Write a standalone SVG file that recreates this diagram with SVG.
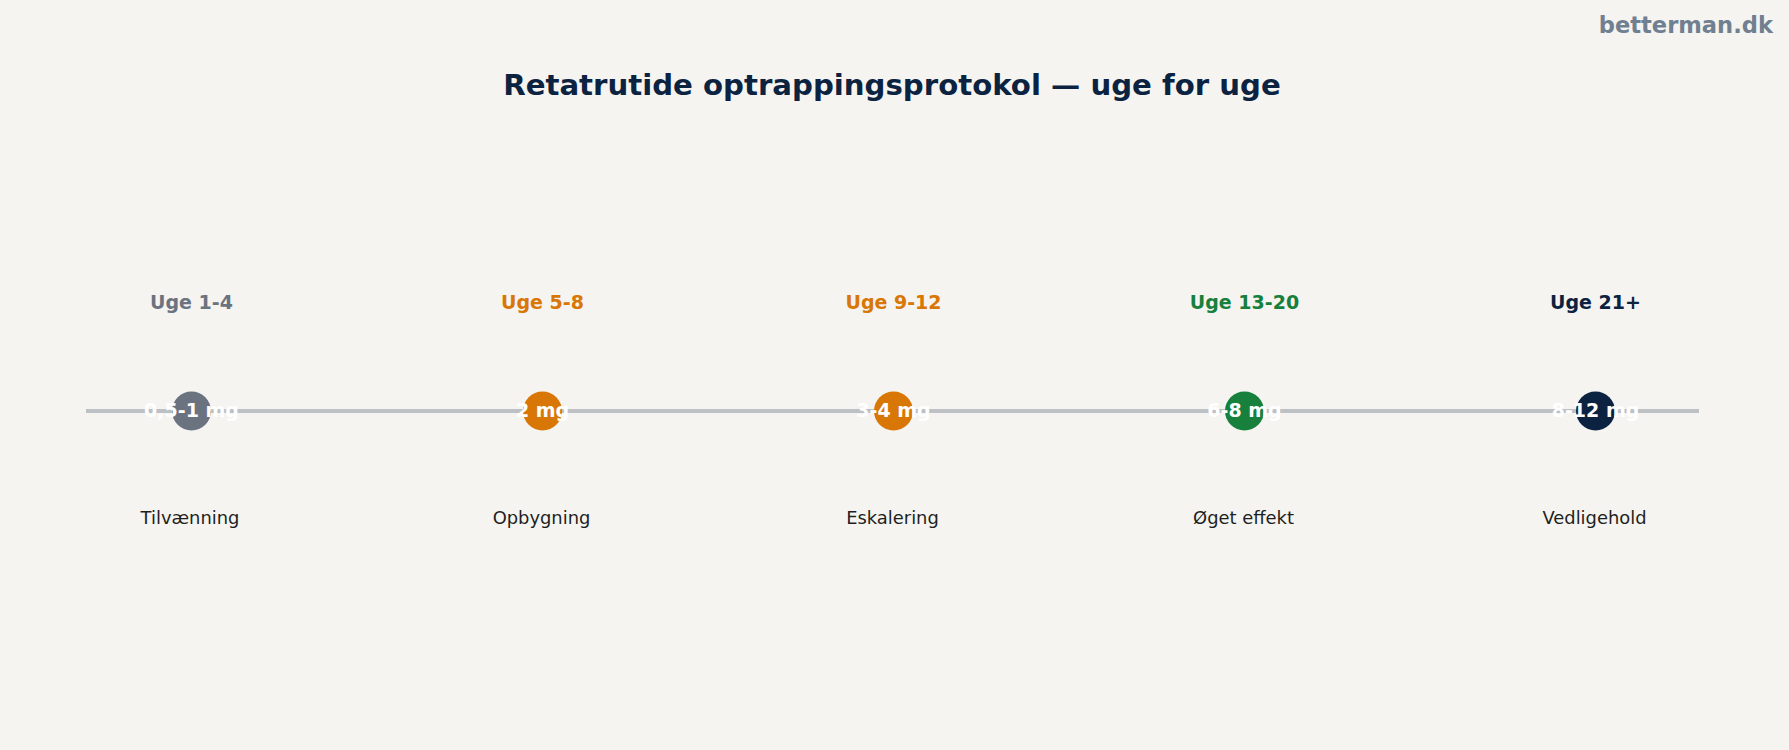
<svg xmlns="http://www.w3.org/2000/svg" width="1789" height="750" viewBox="0 0 1789 750">
<style>
.bg{fill:#f5f4f0}
.title{font-family:"DejaVu Sans",sans-serif;font-weight:bold;font-size:29.2px;fill:#0b2341;text-anchor:middle}
.wm{font-family:"DejaVu Sans",sans-serif;font-weight:bold;font-size:22.6px;fill:#708090;text-anchor:end}
.wk{font-family:"DejaVu Sans",sans-serif;font-weight:bold;font-size:19px;text-anchor:middle}
.dose{font-family:"DejaVu Sans",sans-serif;font-weight:bold;font-size:19px;fill:#ffffff;text-anchor:middle}
.lbl{font-family:"DejaVu Sans",sans-serif;font-size:17.9px;fill:#1f1f1f;text-anchor:middle}
.axis{stroke:#bdc0c4;stroke-width:4;fill:none}
</style>
<rect class="bg" x="0" y="0" width="1789" height="750"/>
<text class="wm" x="1773" y="33">betterman.dk</text>
<text class="title" x="892" y="94.5">Retatrutide optrappingsprotokol — uge for uge</text>
<g id="connectors">
<line class="axis" x1="86" y1="411" x2="1699" y2="411"/>
</g>
<g id="node1">
<text class="wk" x="191.5" y="308.5" fill="#6b7280">Uge 1-4</text>
<circle cx="191.5" cy="411" r="19.5" fill="#6b7280"/>
<text class="dose" x="191.5" y="416.5">0,5-1 mg</text>
<text class="lbl" x="190" y="523.5">Tilvænning</text>
</g>
<g id="node2">
<text class="wk" x="542.5" y="308.5" fill="#d97706">Uge 5-8</text>
<circle cx="542.5" cy="411" r="19.5" fill="#d97706"/>
<text class="dose" x="542.5" y="416.5">2 mg</text>
<text class="lbl" x="541.5" y="523.5">Opbygning</text>
</g>
<g id="node3">
<text class="wk" x="893.5" y="308.5" fill="#d97706">Uge 9-12</text>
<circle cx="893.5" cy="411" r="19.5" fill="#d97706"/>
<text class="dose" x="893.5" y="416.5">3-4 mg</text>
<text class="lbl" x="892.5" y="523.5">Eskalering</text>
</g>
<g id="node4">
<text class="wk" x="1244.5" y="308.5" fill="#16803c">Uge 13-20</text>
<circle cx="1244.5" cy="411" r="19.5" fill="#16803c"/>
<text class="dose" x="1244.5" y="416.5">6-8 mg</text>
<text class="lbl" x="1243.5" y="523.5">Øget effekt</text>
</g>
<g id="node5">
<text class="wk" x="1595.5" y="308.5" fill="#0b2341">Uge 21+</text>
<circle cx="1595.5" cy="411" r="19.5" fill="#0b2341"/>
<text class="dose" x="1595.5" y="416.5">8-12 mg</text>
<text class="lbl" x="1594.5" y="523.5">Vedligehold</text>
</g>
</svg>
